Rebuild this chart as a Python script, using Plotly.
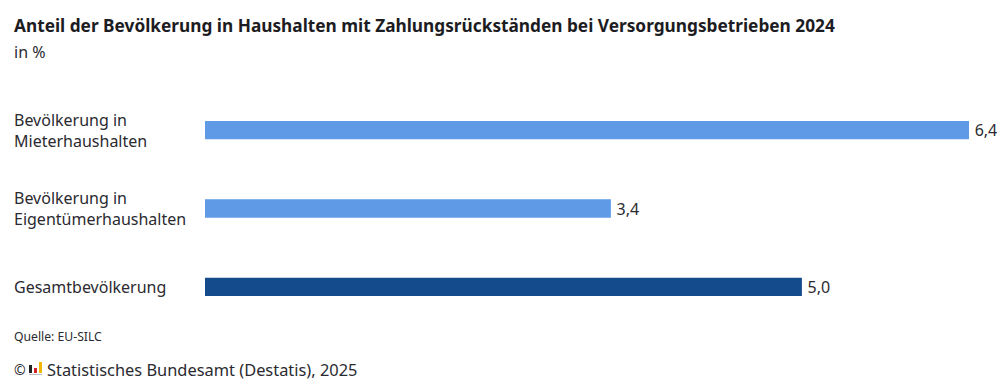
import plotly.graph_objects as go

categories = ["Bevölkerung in<br>Mieterhaushalten", "Bevölkerung in<br>Eigentümerhaushalten", "Gesamtbevölkerung"]
values = [6.4, 3.4, 5.0]
labels = ["\u2009" + s for s in ["6,4", "3,4", "5,0"]]
colors = ["#5f9ae6", "#5f9ae6", "#144b8c"]
title = "Anteil der Bevölkerung in Haushalten mit Zahlungsrückständen bei Versorgungsbetrieben 2024"
subtitle = "in %"
source = "Quelle: EU-SILC"
copyright_text = "Statistisches Bundesamt (Destatis), 2025"
FONT = "Noto Sans"
TXT = "#2a2a30"
W, H = 1000, 383
PL, PR, PT, PB = 205, 969, 91, 326   # plot area in window pixels

fig = go.Figure(go.Bar(
    y=categories, x=values, orientation="h", marker=dict(color=colors, line_width=0),
    text=labels, textposition="outside", cliponaxis=False, constraintext="none",
    textfont=dict(family=FONT, size=16, color=TXT), width=0.235))
fig.update_layout(
    width=W, height=H, autosize=False,
    margin=dict(l=PL, r=W - PR, t=PT, b=H - PB),
    plot_bgcolor="white", paper_bgcolor="white", showlegend=False,
    font=dict(family=FONT, color=TXT),
    xaxis=dict(range=[0, 6.4], visible=False),
    yaxis=dict(autorange="reversed", showticklabels=False, ticks="", showline=False),
)

def px(x):
    return (x - PL) / (PR - PL)

def py(y):
    return 1 - (y - PT) / (PB - PT)

def note(x, y, t, size, bold=False, color=TXT):
    fig.add_annotation(x=px(x), y=py(y), xref="paper", yref="paper", xanchor="left", yanchor="middle",
        text=f"<b>{t}</b>" if bold else t, showarrow=False, align="left",
        borderpad=0, borderwidth=0, font=dict(family=FONT, size=size, color=color))

for cat in categories:
    fig.add_annotation(x=px(13), xref="paper", y=cat, yref="y", xanchor="left", yanchor="middle",
        text=cat, showarrow=False, align="left", borderpad=0,
        font=dict(family=FONT, size=16, color=TXT))

note(14, 25, title, 17.25, bold=True, color="#1c1c22")
note(14, 52, subtitle, 16)
note(14, 336, source, 12.2)
note(14, 369, "©", 14)
note(47, 369, copyright_text, 16.4)

# small logo beside the copyright sign
for x0, x1, y0, y1, c in [(29, 32, 365, 373, "#222222"), (34, 37, 368, 373, "#d2232a"),
                          (39, 42, 362, 373, "#f2b700"), (29, 42, 374, 375, "#bbbbbb")]:
    fig.add_shape(type="rect", xref="paper", yref="paper", x0=px(x0), x1=px(x1), y0=py(y0), y1=py(y1),
                  fillcolor=c, line_width=0)

fig.write_html("out.html", config={"displayModeBar": False},
               post_script="document.body.style.margin='0';document.documentElement.style.overflow='hidden';")
